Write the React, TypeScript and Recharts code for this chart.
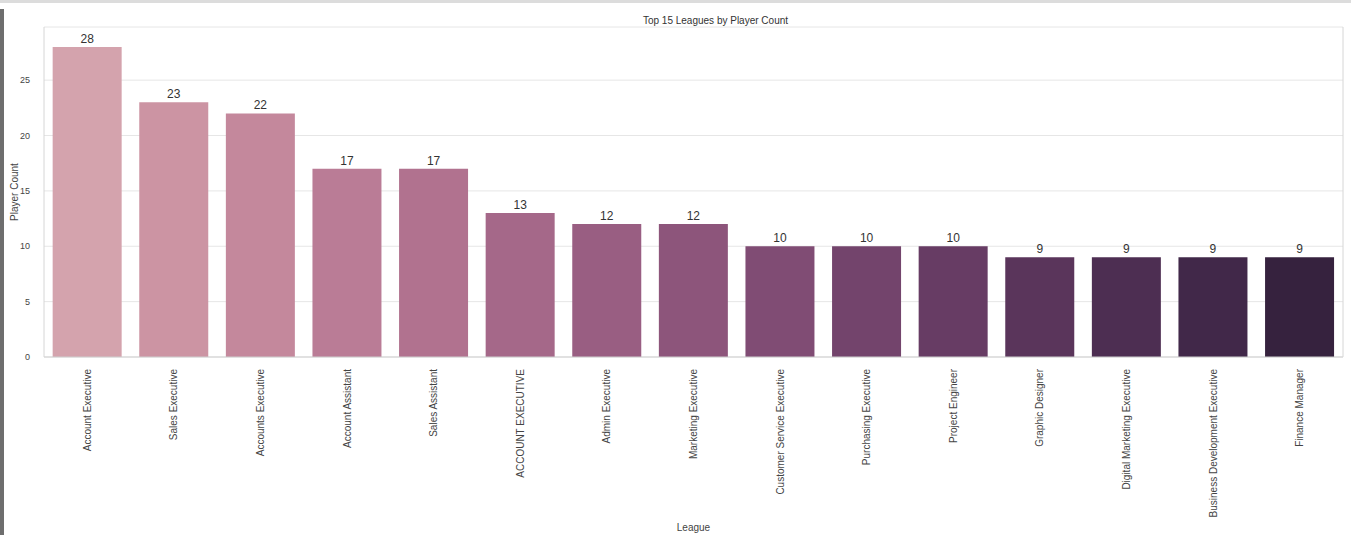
import React from 'react'
import { BarChart, Bar, XAxis, YAxis, CartesianGrid, LabelList, Cell } from 'recharts'

const leagues = [
  'Account Executive',
  'Sales Executive',
  'Accounts Executive',
  'Account Assistant',
  'Sales Assistant',
  'ACCOUNT EXECUTIVE',
  'Admin Executive',
  'Marketing Executive',
  'Customer Service Executive',
  'Purchasing Executive',
  'Project Engineer',
  'Graphic Designer',
  'Digital Marketing Executive',
  'Business Development Executive',
  'Finance Manager',
]
const playerCounts = [28, 23, 22, 17, 17, 13, 12, 12, 10, 10, 10, 9, 9, 9, 9]
const palette = [
  '#d4a3ad', '#cc94a3', '#c4889c', '#ba7c96', '#b1728f',
  '#a56889', '#995e82', '#8d557b', '#804c74', '#73446c',
  '#673c64', '#5a355b', '#4d2e52', '#412849', '#36223e',
]
const yTicks = [0, 5, 10, 15, 20, 25]

const data = leagues.map((name, i) => ({ name, count: playerCounts[i] }))

const FONT = '"Liberation Sans", Arial, sans-serif'

function RotatedTick(props: any) {
  const { x, y, payload } = props
  return (
    <text
      x={x}
      y={y}
      transform={`rotate(-90, ${x}, ${y})`}
      textAnchor="end"
      dominantBaseline="central"
      fontSize={10}
      fill="#444"
      fontFamily={FONT}
    >
      {payload.value}
    </text>
  )
}

export default function App() {
  return (
    <div style={{ position: 'absolute', left: 0, top: 0, width: 1351, height: 535, background: '#fff', fontFamily: FONT }}>
      <div style={{ position: 'absolute', left: 0, top: 0, width: 1351, height: 3, background: '#dcdcdc' }} />
      <div style={{ position: 'absolute', left: 0, top: 9, width: 4, height: 526, background: '#6e6e6e' }} />
      <div style={{ position: 'absolute', left: 0, top: 15, width: 1351, textAlign: 'center', fontSize: 10, color: '#333', paddingLeft: 40 }}>
        Top 15 Leagues by Player Count
      </div>
      <BarChart
        width={1351}
        height={535}
        data={data}
        margin={{ top: 27, right: 7, bottom: 0, left: 0 }}
        barCategoryGap="10%"
      >
        <CartesianGrid vertical={false} stroke="#e6e6e6" />
        <XAxis
          dataKey="name"
          interval={0}
          height={178}
          tickLine={false}
          axisLine={{ stroke: '#cfcfcf' }}
          tick={<RotatedTick />}
          tickMargin={6}
          label={{ value: 'League', position: 'insideBottom', offset: 4, fontSize: 10, fill: '#444' }}
        />
        <XAxis xAxisId="top" orientation="top" dataKey="name" tick={false} tickLine={false} height={0} axisLine={{ stroke: '#d6d6d6' }} />
        <YAxis
          domain={[0, 29.8]}
          ticks={yTicks}
          width={44}
          tickLine={false}
          axisLine={{ stroke: '#d6d6d6' }}
          tick={{ fontSize: 9, fill: '#444', fontFamily: FONT }}
          tickMargin={8}
          label={{ value: 'Player Count', angle: -90, position: 'insideLeft', offset: 14, fontSize: 10, fill: '#444', style: { textAnchor: 'middle' } }}
        />
        <YAxis yAxisId="right" orientation="right" domain={[0, 29.8]} width={1} tick={false} tickLine={false} axisLine={{ stroke: '#d6d6d6' }} />
        <Bar dataKey="count" isAnimationActive={false}>
          {data.map((d, i) => (
            <Cell key={d.name} fill={palette[i]} />
          ))}
          <LabelList dataKey="count" position="top" offset={4} fontSize={12} fill="#333" fontFamily={FONT} />
        </Bar>
      </BarChart>
    </div>
  )
}
